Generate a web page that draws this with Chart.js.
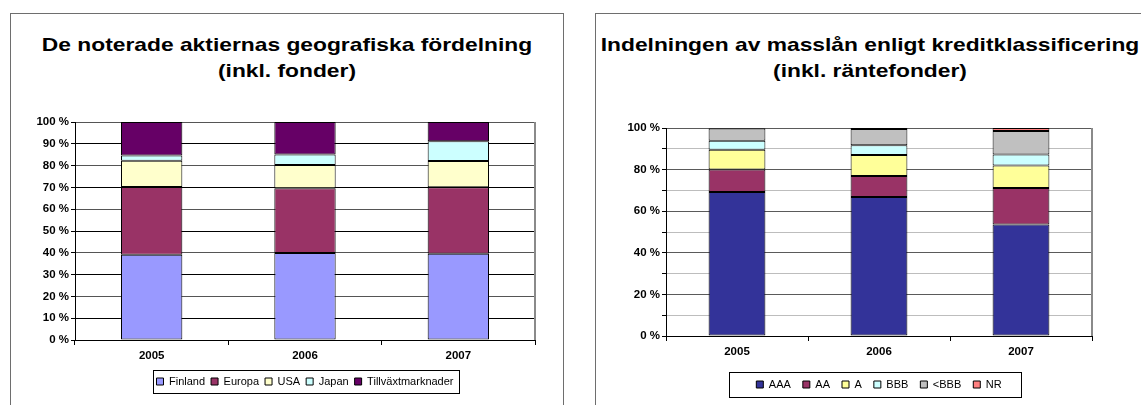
<!DOCTYPE html>
<html lang="sv">

<head>
  <meta charset="UTF-8">
  <title>Aktier och masslån</title>
  <script src="https://cdn.jsdelivr.net/npm/chart.js"></script>
  <style>
    body {
      margin: 0;
      width: 1141px;
      height: 405px;
      overflow: hidden;
      background: #ffffff;
      position: relative;
      font-family: "Liberation Sans", Arial, sans-serif;
    }

    .panel {
      position: absolute;
      top: 13px;
      height: 400px;
      border: 1px solid #6e6e6e;
      border-bottom: none;
      box-sizing: border-box;
    }

    #panelAktier {
      left: 10px;
      width: 554px;
    }

    #panelLan {
      left: 595px;
      width: 560px;
    }

    .rubrik {
      position: absolute;
      top: 18px;
      left: 0;
      text-align: center;
      font-weight: bold;
      font-size: 19px;
      line-height: 26px;
      white-space: nowrap;
      color: #000;
      transform: scaleX(1.2);
      transform-origin: center top;
    }

    .graf {
      position: absolute;
      left: 0;
      top: 86px;
      height: 305px;
    }
  </style>
</head>

<body>

  <div class="panel" id="panelAktier">
    <div class="rubrik" style="width: 552px;">De noterade aktiernas geografiska fördelning<br>(inkl. fonder)</div>
    <div class="graf" style="width: 551px;">
      <canvas id="grafAktier"></canvas>
    </div>
  </div>

  <div class="panel" id="panelLan">
    <div class="rubrik" style="width: 548px;">Indelningen av masslån enligt kreditklassificering<br>(inkl. räntefonder)</div>
    <div class="graf" style="width: 545px;">
      <canvas id="grafLan"></canvas>
    </div>
  </div>

</body>

</html>

<script>

  // år på x-axeln
  const ar = ['2005', '2006', '2007'];

  // aktier, andel i procent
  const finland = [39.1, 39.9, 39.6];
  const europa = [31.1, 29.7, 30.5];
  const usa = [12.0, 10.7, 12.0];
  const japan = [2.4, 4.8, 9.1];
  const tillvaxt = [15.4, 14.9, 8.8];
  const aktieTicks = ['0 %', '10 %', '20 %', '30 %', '40 %', '50 %', '60 %', '70 %', '80 %', '90 %', '100 %'];

  // masslån per kreditklass, andel i procent
  const aaa = [69.2, 66.8, 53.6];
  const aa = [10.9, 10.1, 17.5];
  const klassA = [9.5, 10.1, 10.9];
  const bbb = [4.3, 4.7, 5.3];
  const underBbb = [5.8, 7.8, 11.3];
  const nr = [0.3, 0.5, 1.4];
  const lanTicks = ['0 %', '', '20 %', '', '40 %', '', '60 %', '', '80 %', '', '100 %'];

  const typsnitt = '"Liberation Sans", Arial, sans-serif';

  // ram runt legenden
  const legendRam = {
    id: 'legendRam',
    afterDraw(chart, args, opts) {
      const boxar = chart.legend.legendHitBoxes;
      if (!boxar || !boxar.length) return;
      let v = Infinity, h = -Infinity, t = Infinity, b = -Infinity;
      boxar.forEach(function (bx) {
        v = Math.min(v, bx.left);
        h = Math.max(h, bx.left + bx.width);
        t = Math.min(t, bx.top);
        b = Math.max(b, bx.top + bx.height);
      });
      const ctx = chart.ctx;
      ctx.save();
      ctx.strokeStyle = '#000';
      ctx.lineWidth = 1;
      const x1 = Math.round(v - opts.vanster) + 0.5;
      const x2 = Math.round(h + opts.hoger) + 0.5;
      const y1 = Math.round(t - opts.upp) + 0.5;
      const y2 = Math.round(b + opts.ner) + 0.5;
      ctx.strokeRect(x1, y1, x2 - x1, y2 - y1);
      ctx.restore();
    }
  };

  // grå linje på ritytans högra sida
  const hogerKant = {
    id: 'hogerKant',
    beforeDatasetsDraw(chart) {
      const a = chart.chartArea;
      const ctx = chart.ctx;
      ctx.save();
      ctx.strokeStyle = '#8a8a8a';
      ctx.lineWidth = 2;
      ctx.beginPath();
      ctx.moveTo(a.right, a.top);
      ctx.lineTo(a.right, a.bottom);
      ctx.stroke();
      ctx.restore();
    }
  };

  function stapel(namn, data, farg) {
    return {
      label: namn,
      data: data,
      backgroundColor: farg,
      borderColor: '#000000',
      borderWidth: 1,
      borderSkipped: false,
      barPercentage: 0.4,
      categoryPercentage: 1.0
    };
  }

  function skapaGraf(id, dataset, ticks, griffarg, ytBredd, xHojd, padding, legendPadding, ram) {
    const config = {
      type: 'bar',
      data: {
        labels: ar,
        datasets: dataset
      },
      options: {
        responsive: true,
        maintainAspectRatio: false,
        animation: false,
        layout: {
          padding: padding
        },
        plugins: {
          title: { display: false },
          tooltip: { enabled: false },
          legend: {
            position: 'bottom',
            fullSize: false,
            labels: {
              boxWidth: 7,
              boxHeight: 7,
              padding: legendPadding,
              color: '#000',
              font: { family: typsnitt, size: 11 }
            }
          },
          legendRam: ram
        },
        scales: {
          x: {
            stacked: true,
            offset: true,
            grid: {
              offset: true,
              drawOnChartArea: false,
              drawTicks: true,
              tickLength: 5,
              color: '#000'
            },
            border: { color: '#000', width: 1 },
            ticks: {
              color: '#000',
              padding: 4,
              font: { family: typsnitt, size: 11.5, weight: 'bold' }
            },
            afterFit: function (s) { s.height = xHojd; }
          },
          y: {
            stacked: true,
            min: 0,
            max: 100,
            ticks: {
              stepSize: 10,
              color: '#000',
              padding: 2,
              font: { family: typsnitt, size: 11.5, weight: 'bold' },
              callback: function (v, i) { return ticks[i]; }
            },
            grid: {
              color: griffarg,
              tickColor: '#000',
              tickLength: 4
            },
            border: { color: '#000', width: 1 },
            afterFit: function (s) { s.width = ytBredd; }
          }
        }
      },
      plugins: [legendRam, hogerKant]
    };

    return new Chart(document.getElementById(id), config);
  }

  skapaGraf('grafAktier', [
    stapel('Finland', finland, '#9999FF'),
    stapel('Europa', europa, '#993366'),
    stapel('USA', usa, '#FFFFCC'),
    stapel('Japan', japan, '#CCFFFF'),
    stapel('Tillväxtmarknader', tillvaxt, '#660066')
  ], aktieTicks, function (c) {
    return c.index % 2 == 1 ? '#000000' : '#555555';
  }, 64, 30, { top: 22, right: 27, bottom: 8, left: 0 }, 6,
    { vanster: 3, hoger: 5, upp: 6, ner: 6 });

  skapaGraf('grafLan', [
    stapel('AAA', aaa, '#333399'),
    stapel('AA', aa, '#993366'),
    stapel('A', klassA, '#FFFF99'),
    stapel('BBB', bbb, '#CCFFFF'),
    stapel('<BBB', underBbb, '#C0C0C0'),
    stapel('NR', nr, '#FF8080')
  ], lanTicks, function (c) {
    return c.index % 2 == 0 ? '#5a5a5a' : '#bdbdbd';
  }, 70, 31, { top: 28, right: 49, bottom: 5, left: 0 }, 12,
    { vanster: 27, hoger: 19, upp: 7, ner: 7 });

</script>
